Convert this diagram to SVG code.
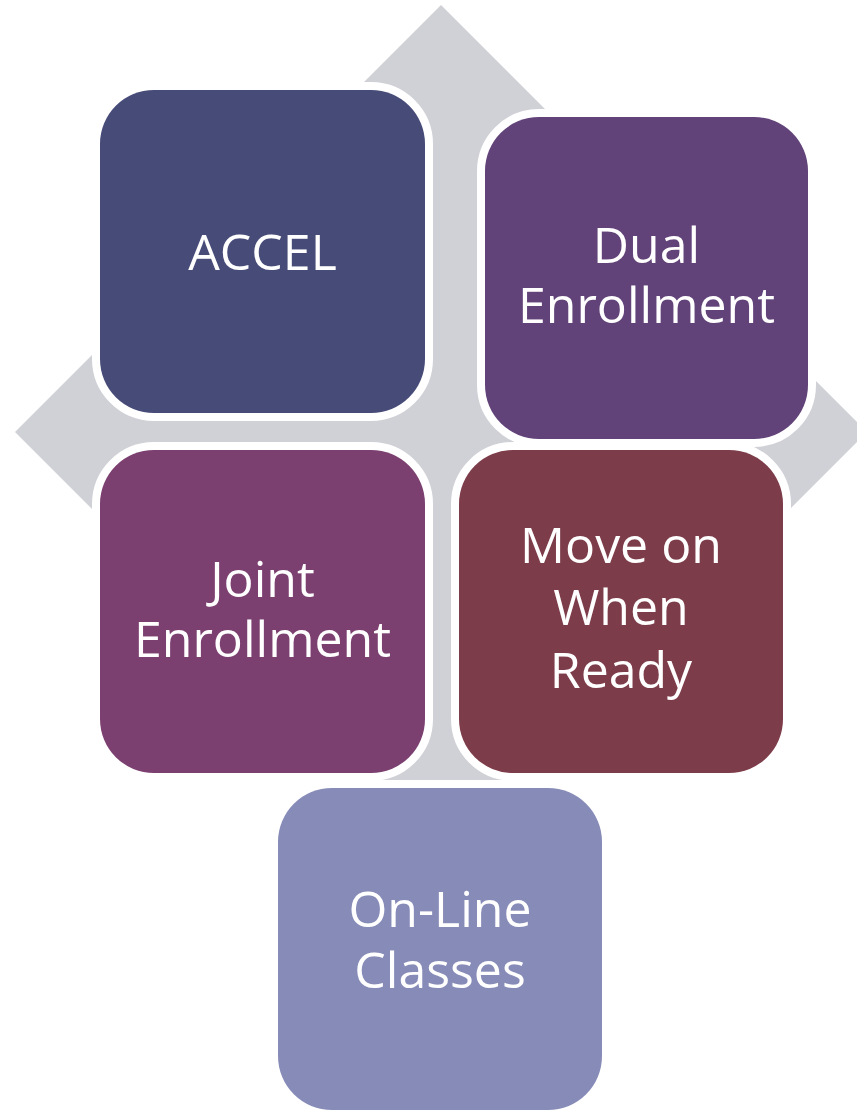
<svg xmlns="http://www.w3.org/2000/svg" width="857" height="1112" viewBox="0 0 857 1112">
  <style>
    .box { stroke: #FFFFFF; stroke-width: 16; paint-order: stroke; }
    .lbl { font-family: "Open Sans", Lato, "Liberation Sans", sans-serif; font-size: 50px; fill: #FFFFFF; text-anchor: middle; }
  </style>
  <rect x="0" y="0" width="857" height="1112" fill="#FFFFFF"/>
  <g id="background">
    <polygon fill="#D0D1D6" points="441,5 581,145 511,145 511,362 727,362 727,292 867,432 727,572 727,502 511,502 511,718 581,718 441,858 301,718 371,718 371,502 155,502 155,572 15,432 155,292 155,362 371,362 371,145 301,145"/>
  </g>
  <g id="connectors"></g>
  <g id="node-accel">
    <rect class="box" x="100" y="90" width="325" height="323" rx="54" ry="54" fill="#474B78"/>
    <text class="lbl" x="262.5" y="270">ACCEL</text>
  </g>
  <g id="node-dual">
    <rect class="box" x="485" y="117" width="323" height="322" rx="54" ry="54" fill="#624379"/>
    <text class="lbl" x="646.5" y="263">Dual</text>
    <text class="lbl" x="646.5" y="323">Enrollment</text>
  </g>
  <g id="node-joint">
    <rect class="box" x="100" y="450" width="325" height="323" rx="54" ry="54" fill="#7B3F70"/>
    <text class="lbl" x="262.5" y="597">Joint</text>
    <text class="lbl" x="262.5" y="657">Enrollment</text>
  </g>
  <g id="node-move">
    <rect class="box" x="459" y="450" width="324" height="323" rx="54" ry="54" fill="#7D3C49"/>
    <text class="lbl" x="621" y="563">Move on</text>
    <text class="lbl" x="621" y="625">When</text>
    <text class="lbl" x="621" y="688">Ready</text>
  </g>
  <g id="node-online">
    <rect class="box" x="278" y="788" width="324" height="322" rx="54" ry="54" fill="#878BB7"/>
    <text class="lbl" x="440" y="927">On-Line</text>
    <text class="lbl" x="440" y="988">Classes</text>
  </g>
</svg>
